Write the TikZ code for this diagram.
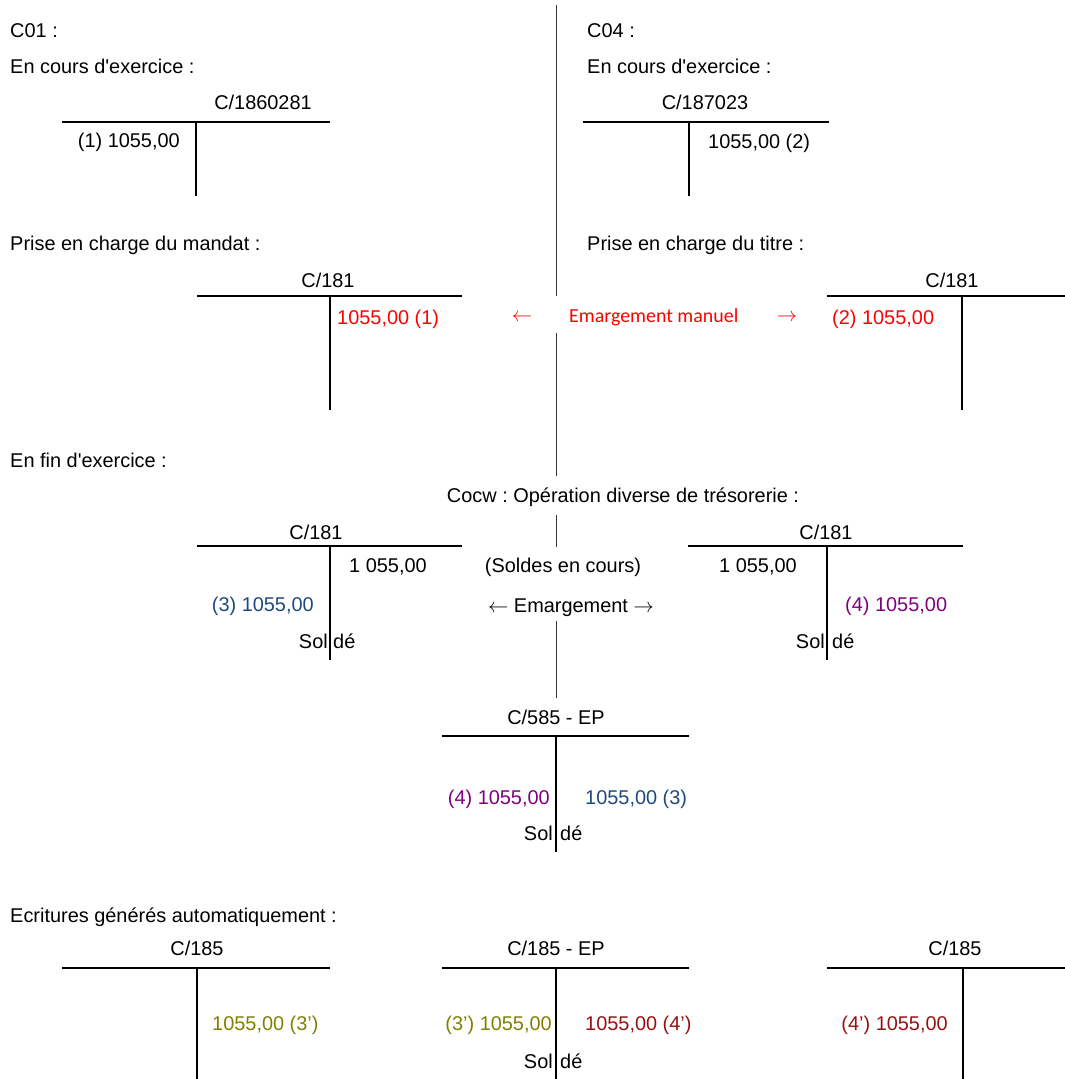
\documentclass[tikz,border=0pt]{standalone}
\usepackage{fontspec}
\setmainfont{Liberation Sans}
\newfontfamily\calibri{Carlito}
\usepackage{xcolor}
\usetikzlibrary{positioning}
\frenchspacing

\definecolor{bleucompte}{RGB}{31,73,125}
\definecolor{violetcompte}{RGB}{128,0,128}
\definecolor{olivecompte}{RGB}{128,128,0}
\definecolor{rougecompte}{RGB}{150,18,18}

\tikzset{
    txt/.style={font=\fontsize{17}{20}\selectfont, inner sep=0pt, text height=0.42cm, text depth=0cm},
    compte/.style={line width=0.9pt},
    separateur/.style={line width=0.8pt, black!80},
}

\begin{document}
\begin{tikzpicture}[x=0.03cm, y=-0.03cm]
    \useasboundingbox (0,0) rectangle (1065,1079);

    % Separateur central
    \draw[separateur] (556,5) -- (556,296);
    \draw[separateur] (556,333) -- (556,476);
    \draw[separateur] (556,515) -- (556,547);
    \draw[separateur] (556,621) -- (556,698);

    % C01 : en cours d'exercice
    \node[txt, anchor=west] (c01) at (10,30) {C01 :};
    \node[txt, anchor=west] (coursA) at (10,66) {En cours d\textquotesingle exercice :};
    \node[txt] (cptA) at (263,102) {C/1860281};
    \draw[compte] (62,122) -- (330,122);
    \draw[compte] (196,122) -- (196,196);
    \node[txt, anchor=east] (debA) at (180,140) {(1) 1055,00};

    % C04 : en cours d'exercice
    \node[txt, anchor=west] (c04) at (587,30) {C04 :};
    \node[txt, anchor=west] (coursB) at (587,66) {En cours d\textquotesingle exercice :};
    \node[txt] (cptB) at (705,102) {C/187023};
    \draw[compte] (583,122) -- (829,122);
    \draw[compte] (689,122) -- (689,196);
    \node[txt, anchor=west] (credB) at (708,141) {1055,00 (2)};

    % Prise en charge du mandat
    \node[txt, anchor=west] (mandat) at (10,243) {Prise en charge du mandat :};
    \node[txt] (cpt181A) at (328,280) {C/181};
    \draw[compte] (197,296) -- (462,296);
    \draw[compte] (330,296) -- (330,410);
    \node[txt, anchor=west, red] (credA) at (337,317) {1055,00 (1)};

    % Emargement manuel
    \node[txt, red] (flecheG) at (522,314) {$\leftarrow$};
    \node[txt, anchor=west, red, font=\calibri\fontsize{17}{20}\selectfont] (emarg) at (569,315) {Emargement manuel};
    \node[txt, red] (flecheD) at (787,314) {$\rightarrow$};

    % Prise en charge du titre
    \node[txt, anchor=west] (titre) at (587,243) {Prise en charge du titre :};
    \node[txt] (cpt181B) at (952,280) {C/181};
    \draw[compte] (827,296) -- (1065,296);
    \draw[compte] (962,296) -- (962,410);
    \node[txt, anchor=west, red] (debB) at (832,317) {(2) 1055,00};

    % En fin d'exercice
    \node[txt, anchor=west] (fin) at (10,460) {En fin d\textquotesingle exercice :};
    \node[txt] (cocw) at (623,495) {Cocw : Opération diverse de trésorerie :};

    \node[txt] (cpt181C) at (316,532) {C/181};
    \draw[compte] (197,546) -- (462,546);
    \draw[compte] (330,546) -- (330,660);
    \node[txt, anchor=west] (credC) at (349,565) {1 055,00};
    \node[txt, anchor=east, bleucompte] (debC) at (314,604) {(3) 1055,00};
    \node[txt, anchor=east] (solC) at (328,641) {Sol};
    \node[txt, anchor=west] (deC) at (333,641) {dé};

    \node[txt] (soldes) at (563,565) {(Soldes en cours)};
    \node[txt] (emargB) at (571,605) {$\leftarrow$ Emargement $\rightarrow$};

    \node[txt] (cpt181D) at (826,532) {C/181};
    \draw[compte] (688,546) -- (963,546);
    \draw[compte] (827,546) -- (827,660);
    \node[txt, anchor=east] (debD) at (797,565) {1 055,00};
    \node[txt, anchor=west, violetcompte] (credD) at (845,604) {(4) 1055,00};
    \node[txt, anchor=east] (solD) at (825,641) {Sol};
    \node[txt, anchor=west] (deD) at (832,641) {dé};

    % C/585 - EP
    \node[txt] (cpt585) at (556,717) {C/585 - EP};
    \draw[compte] (442,736) -- (689,736);
    \draw[compte] (556,736) -- (556,852);
    \node[txt, anchor=east, violetcompte] (deb585) at (550,797) {(4) 1055,00};
    \node[txt, anchor=west, bleucompte] (cred585) at (585,797) {1055,00 (3)};
    \node[txt, anchor=east] (sol585) at (553,833) {Sol};
    \node[txt, anchor=west] (de585) at (560,833) {dé};

    % Ecritures generees automatiquement
    \node[txt, anchor=west] (auto) at (10,915) {Ecritures générés automatiquement :};

    \node[txt] (cpt185A) at (197,948) {C/185};
    \draw[compte] (62,968) -- (330,968);
    \draw[compte] (197,968) -- (197,1079);
    \node[txt, anchor=west, olivecompte] (cred185A) at (212,1023) {1055,00 (3’)};

    \node[txt] (cpt185EP) at (556,948) {C/185 - EP};
    \draw[compte] (442,968) -- (689,968);
    \draw[compte] (556,968) -- (556,1079);
    \node[txt, anchor=east, olivecompte] (deb185EP) at (552,1023) {(3’) 1055,00};
    \node[txt, anchor=west, rougecompte] (cred185EP) at (585,1023) {1055,00 (4’)};
    \node[txt, anchor=east] (sol185) at (553,1061) {Sol};
    \node[txt, anchor=west] (de185) at (560,1061) {dé};

    \node[txt] (cpt185B) at (955,948) {C/185};
    \draw[compte] (827,968) -- (1065,968);
    \draw[compte] (963,968) -- (963,1079);
    \node[txt, anchor=east, rougecompte] (deb185B) at (948,1023) {(4’) 1055,00};

\end{tikzpicture}
\end{document}
